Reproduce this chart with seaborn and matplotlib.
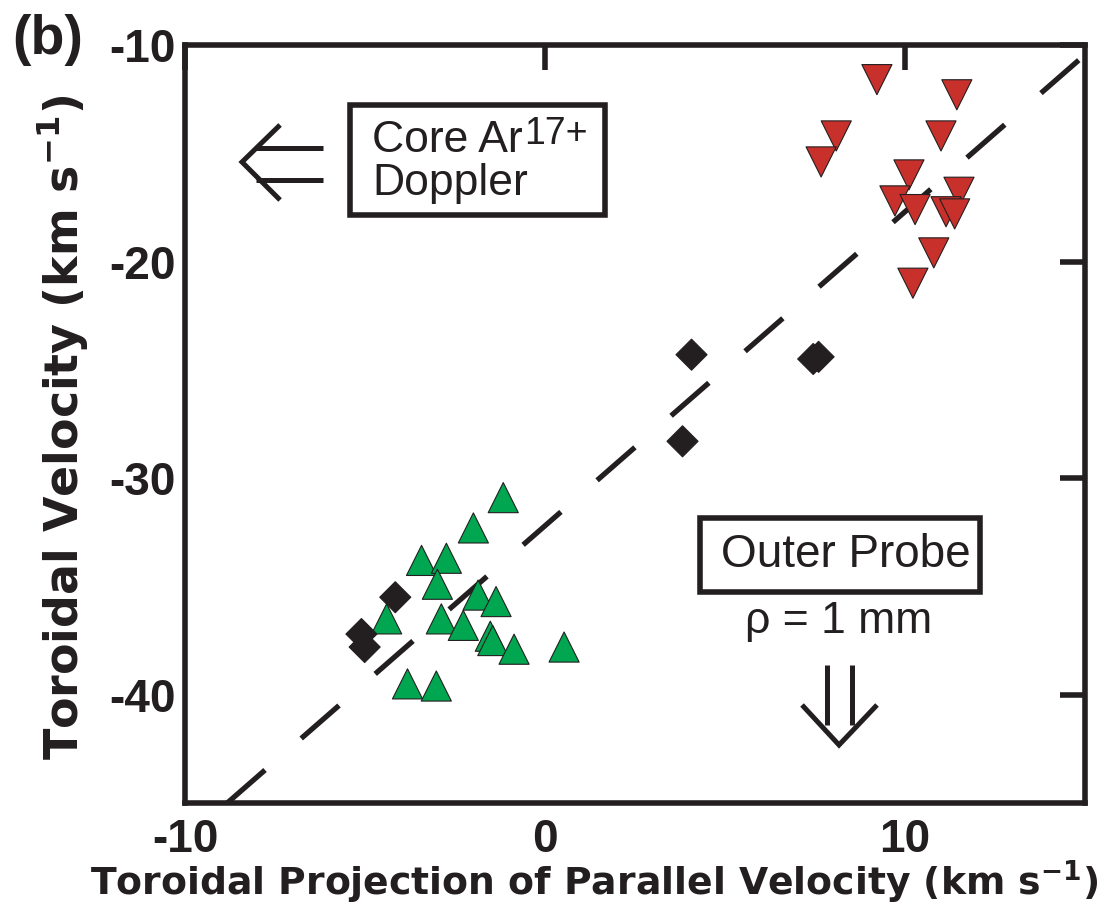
import matplotlib
matplotlib.use('Agg')
import matplotlib.pyplot as plt
from matplotlib.patches import Rectangle
import numpy as np
import pandas as pd
import seaborn as sns

# ---- data ----
core_x = [9.22, 11.44, 8.09, 7.67, 11.00, 10.11, 11.50, 9.72, 10.28, 11.14, 11.38, 10.80, 10.22]
core_y = [-11.6, -12.3, -14.2, -15.4, -14.2, -16.0, -16.8, -17.2, -17.6, -17.7, -17.8, -19.6, -21.0]

edge_x = [-1.16, -1.99, -3.43, -2.74, -2.99, -1.86, -1.36, -4.40, -2.88, -2.27, -1.52, -1.45, -0.86, 0.53, -3.82, -3.02]
edge_y = [-30.9, -32.3, -33.8, -33.7, -34.9, -35.4, -35.7, -36.5, -36.5, -36.8, -37.3, -37.5, -37.9, -37.8, -39.5, -39.6]

mid_x = [-4.16, -5.10, -5.01, 4.07, 7.45, 7.60, 3.82]
mid_y = [-35.5, -37.2, -37.8, -24.3, -24.5, -24.4, -28.3]

fit_slope = 1.45
fit_intercept = -32.2

xlim = (-10, 15)
ylim = (-45, -10)
xticks = [-10, 0, 10]
yticks = [-10, -20, -30, -40]

df = pd.DataFrame({
    'x': core_x + edge_x + mid_x,
    'y': core_y + edge_y + mid_y,
    'group': ['core'] * len(core_x) + ['edge'] * len(edge_x) + ['mid'] * len(mid_x),
})

INK = '#231f20'
ARIAL = ['Liberation Sans', 'DejaVu Sans']
WIDE = ['DejaVu Sans']

sns.set_theme(style='white')
plt.rcParams['font.family'] = ARIAL
plt.rcParams['axes.unicode_minus'] = False

fig = plt.figure(figsize=(11.06, 9.18), dpi=100)
ax = fig.add_axes([0.1673, 0.1253, 0.8137, 0.8257])

# fit line, starting where it enters through the bottom edge
x0 = (ylim[0] - fit_intercept) / fit_slope
fx = np.array([x0, xlim[1]])
ax.plot(fx, fit_slope * fx + fit_intercept, color=INK, lw=3.8,
        dashes=(9.5, 9.1), zorder=1)

sns.scatterplot(data=df, x='x', y='y', hue='group', style='group',
                markers={'core': 'v', 'edge': '^', 'mid': 'D'},
                palette={'core': '#c8302b', 'edge': '#00a650', 'mid': INK},
                size='group', sizes={'core': 470, 'edge': 470, 'mid': 250},
                edgecolor=INK, linewidth=0.8, legend=False, ax=ax, zorder=3)

ax.set_xlim(*xlim)
ax.set_ylim(*ylim)
ax.set_xticks(xticks)
ax.set_yticks(yticks)
for s in ax.spines.values():
    s.set_linewidth(4)
    s.set_color(INK)
ax.tick_params(direction='in', length=18, width=4, color=INK,
               top=True, right=True, labelsize=33)
ax.tick_params(axis='x', pad=11)
ax.tick_params(axis='y', pad=7)
for lab in ax.get_xticklabels() + ax.get_yticklabels():
    lab.set_fontweight('bold')
    lab.set_color(INK)

ax.set_xlabel(r'Toroidal Projection of Parallel Velocity (km s$\mathregular{^{-1}}$)',
              fontsize=27.2, fontweight='bold', color=INK, family=WIDE, va='center')
ax.xaxis.set_label_coords(0.454, -0.104)
ax.set_ylabel(r'Toroidal Velocity (km s$\mathregular{^{-1}}$)',
              fontsize=33, fontweight='bold', color=INK, family=WIDE, va='center')
ax.yaxis.set_label_coords(-0.135, 0.495)

fig.text(0.0108, 0.9564, '(b)', fontsize=40, fontweight='bold', color=INK,
         ha='left', va='center')

# "Core Ar17+ Doppler" box
ax.add_patch(Rectangle((0.1833, 0.7757), 0.2834, 0.1451, transform=ax.transAxes,
                       fc='white', ec=INK, lw=4, zorder=4))
core_txt = ax.text(0.2078, 0.8588, 'Core Ar', transform=ax.transAxes, fontsize=32,
                   color=INK, ha='left', va='baseline', zorder=5)
ax.annotate('17+', xy=(1, 1), xycoords=core_txt, xytext=(1, 3),
            textcoords='offset points', fontsize=27, color=INK,
            ha='left', va='top', zorder=5)
ax.text(0.2078, 0.8021, 'Doppler', transform=ax.transAxes, fontsize=32,
        color=INK, ha='left', va='baseline', zorder=5)

# "Outer Probe" box
ax.add_patch(Rectangle((0.5722, 0.2784), 0.3111, 0.0976, transform=ax.transAxes,
                       fc='white', ec=INK, lw=4, zorder=4))
ax.text(0.7344, 0.3272, 'Outer Probe', transform=ax.transAxes, fontsize=33,
        color=INK, ha='center', va='center', zorder=5)
ax.text(0.7267, 0.2388, 'ρ = 1 mm', transform=ax.transAxes, fontsize=32,
        color=INK, ha='center', va='center', zorder=5)

# double arrows drawn as strokes in axes fraction
ak = dict(transform=ax.transAxes, color=INK, lw=3.6, solid_capstyle='butt',
          solid_joinstyle='miter', clip_on=False)
ax.plot([0.0789, 0.1533], [0.8641, 0.8641], **ak)
ax.plot([0.0789, 0.1533], [0.8219, 0.8219], **ak)
ax.plot([0.1056, 0.0633, 0.1056], [0.8945, 0.8456, 0.7955], **ak)
ax.plot([0.7133, 0.7133], [0.1821, 0.1029], **ak)
ax.plot([0.7411, 0.7411], [0.1821, 0.1029], **ak)
ax.plot([0.6856, 0.7267, 0.7689], [0.1293, 0.0765, 0.1293], **ak)

fig.savefig('out.png', dpi=100)
